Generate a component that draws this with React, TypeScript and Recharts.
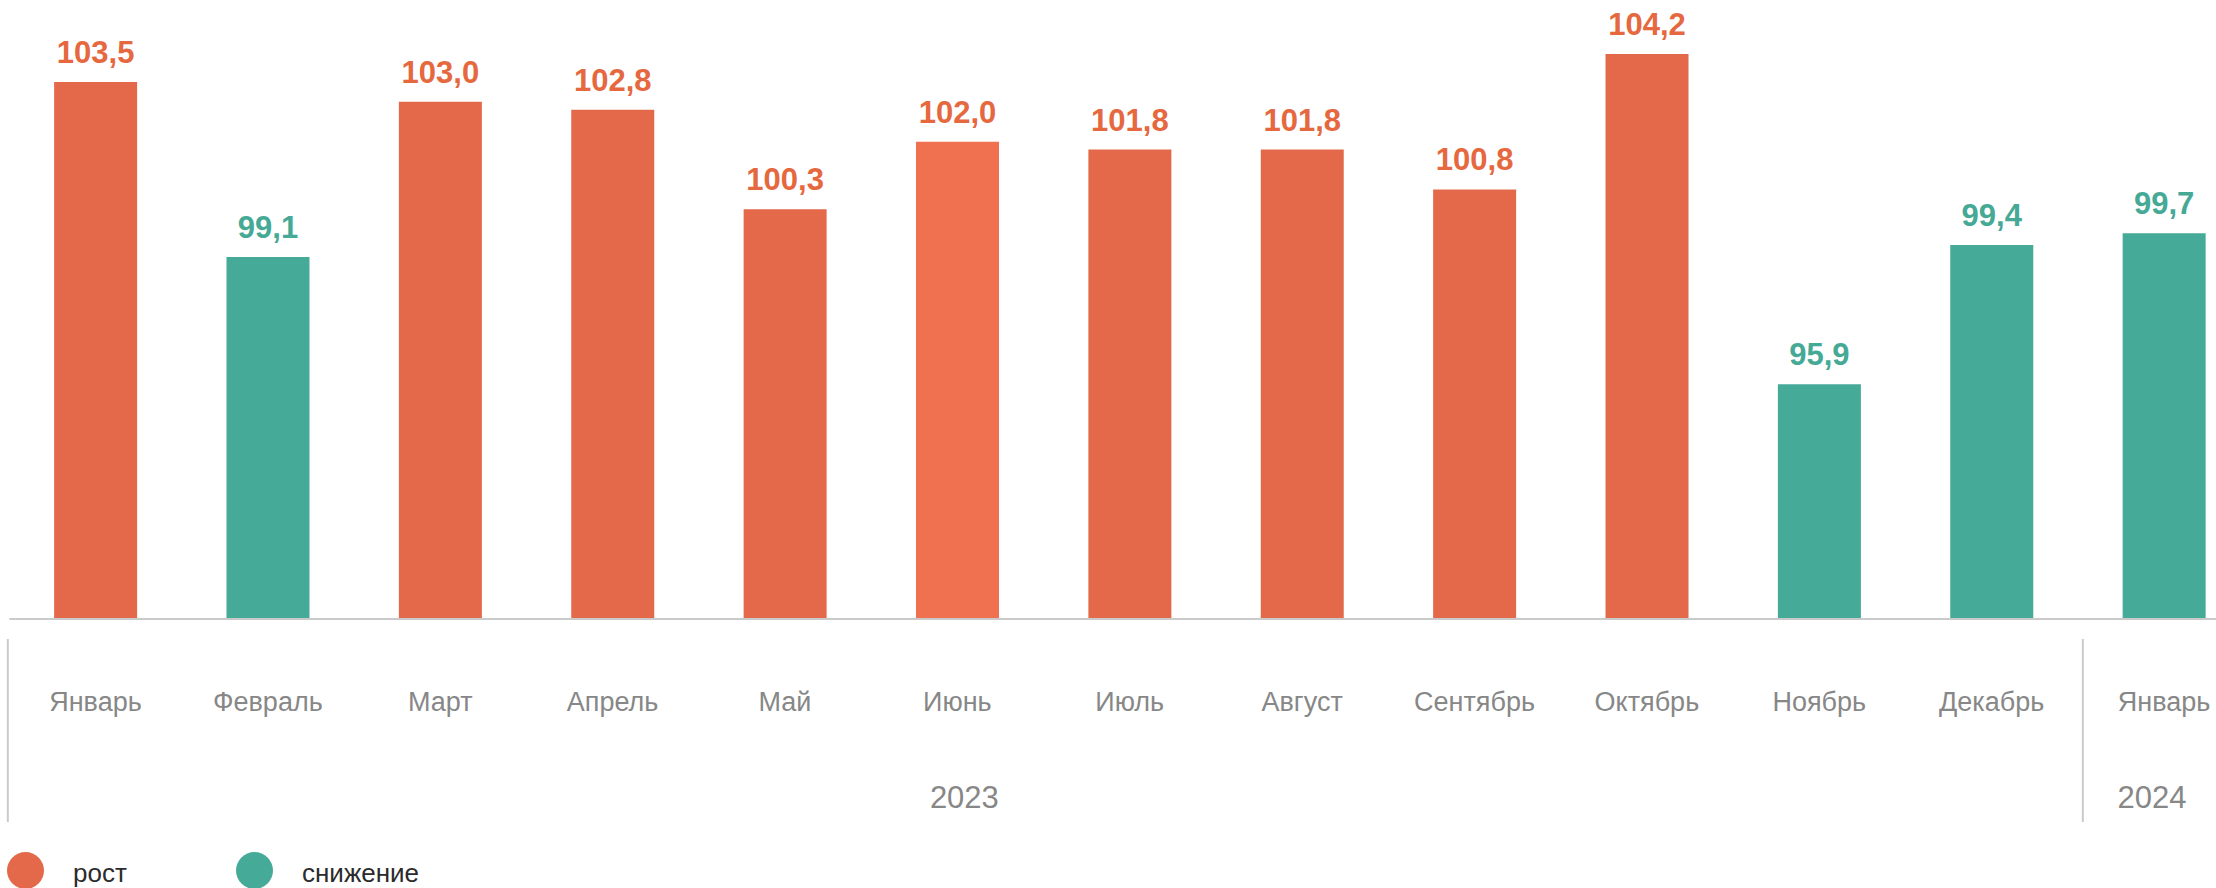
import React from "react";
import { BarChart, Bar, XAxis, YAxis, Cell, LabelList } from "recharts";

const months = [
  "Январь", "Февраль", "Март", "Апрель", "Май", "Июнь", "Июль",
  "Август", "Сентябрь", "Октябрь", "Ноябрь", "Декабрь", "Январь",
];
const values = [103.5, 99.1, 103.0, 102.8, 100.3, 102.0, 101.8, 101.8, 100.8, 104.2, 95.9, 99.4, 99.7];
const years = ["2023", "2023", "2023", "2023", "2023", "2023", "2023", "2023", "2023", "2023", "2023", "2023", "2024"];
// month index under which each year caption is written
const yearCaptions = [
  { year: "2023", at: 5 },
  { year: "2024", at: 12 },
];
const legendItems = [
  { label: "рост", kind: "up" },
  { label: "снижение", kind: "down" },
];

const ORANGE = "#E3694A";
const ORANGE_LIGHT = "#EF7150";
const GREEN = "#46AA98";
const LABEL_ORANGE = "#E5683F";
const LABEL_GREEN = "#45A996";
const GREY = "#878787";
const LINE = "#CACACA";
const FONT = "'Liberation Sans', Arial, sans-serif";

const CHART_W = 2260;
const CHART_H = 888;
const M_LEFT = 9.3;
const M_RIGHT = 9.8;
const AXIS_H = 269;
const BAND = (CHART_W - M_LEFT - M_RIGHT) / months.length;

const data = months.map((m, i) => ({ month: m, value: values[i], year: years[i], idx: i }));

const barColor = (i: number) => {
  if (values[i] < 100) return GREEN;
  return i === 5 ? ORANGE_LIGHT : ORANGE;
};

// tick y sits 8px below the axis line (tickSize + tickMargin)
const MonthTick = (props: any) => {
  const { x, y, payload } = props;
  const i = payload.index;
  const left = x - BAND / 2;
  const startsYear = i === 0 || years[i] !== years[i - 1];
  const caption = yearCaptions.find((c) => c.at === i);
  return (
    <g>
      <text x={x} y={y + 84} textAnchor="middle" fill={GREY} fontSize={27} fontFamily={FONT}>
        {payload.value}
      </text>
      {startsYear && (
        <line x1={left + (i === 0 ? -1.5 : 5)} x2={left + (i === 0 ? -1.5 : 5)} y1={y + 12} y2={y + 195} stroke={LINE} strokeWidth={2} />
      )}
      {caption && (
        <text x={x + (i === 12 ? -12 : 7)} y={y + 181} textAnchor="middle" fill={GREY} fontSize={31} fontFamily={FONT}>
          {caption.year}
        </text>
      )}
    </g>
  );
};

const ValueLabel = (props: any) => {
  const { x, y, width, value, index } = props;
  return (
    <text
      x={x + width / 2}
      y={y - 19}
      textAnchor="middle"
      fill={values[index] < 100 ? LABEL_GREEN : LABEL_ORANGE}
      fontSize={31}
      fontWeight="bold"
      fontFamily={FONT}
    >
      {String(value.toFixed(1)).replace(".", ",")}
    </text>
  );
};

const Legend = () => (
  <div style={{ position: "absolute", left: 0, top: 852, height: 36, display: "flex" }}>
    {legendItems.map((it, k) => (
      <div key={it.label} style={{ position: "absolute", left: k === 0 ? 7 : 236, top: 0, display: "flex", alignItems: "center" }}>
        <span
          style={{
            width: 37,
            height: 37,
            borderRadius: "50%",
            background: it.kind === "up" ? ORANGE : GREEN,
            display: "inline-block",
          }}
        />
        <span
          style={{
            marginLeft: 29,
            fontFamily: FONT,
            fontSize: 26,
            color: "#2B2B2B",
            whiteSpace: "nowrap",
            position: "relative",
            top: 3,
          }}
        >
          {it.label}
        </span>
      </div>
    ))}
  </div>
);

export default function App() {
  return (
    <div style={{ position: "absolute", left: 0, top: 0, width: 2216, height: 888, overflow: "hidden", background: "#fff" }}>
      <BarChart
        width={CHART_W}
        height={CHART_H}
        data={data}
        margin={{ top: 22.3, right: M_RIGHT, left: M_LEFT, bottom: 0 }}
        barCategoryGap="26%"
      >
        <XAxis
          dataKey="month"
          height={AXIS_H}
          interval={0}
          tickLine={false}
          axisLine={{ stroke: LINE, strokeWidth: 2 }}
          tick={<MonthTick />}
        />
        <YAxis hide domain={[90, 105]} allowDataOverflow />
        <Bar dataKey="value" isAnimationActive={false}>
          {data.map((d, i) => (
            <Cell key={i} fill={barColor(i)} />
          ))}
          <LabelList dataKey="value" content={<ValueLabel />} />
        </Bar>
      </BarChart>
      <Legend />
    </div>
  );
}
